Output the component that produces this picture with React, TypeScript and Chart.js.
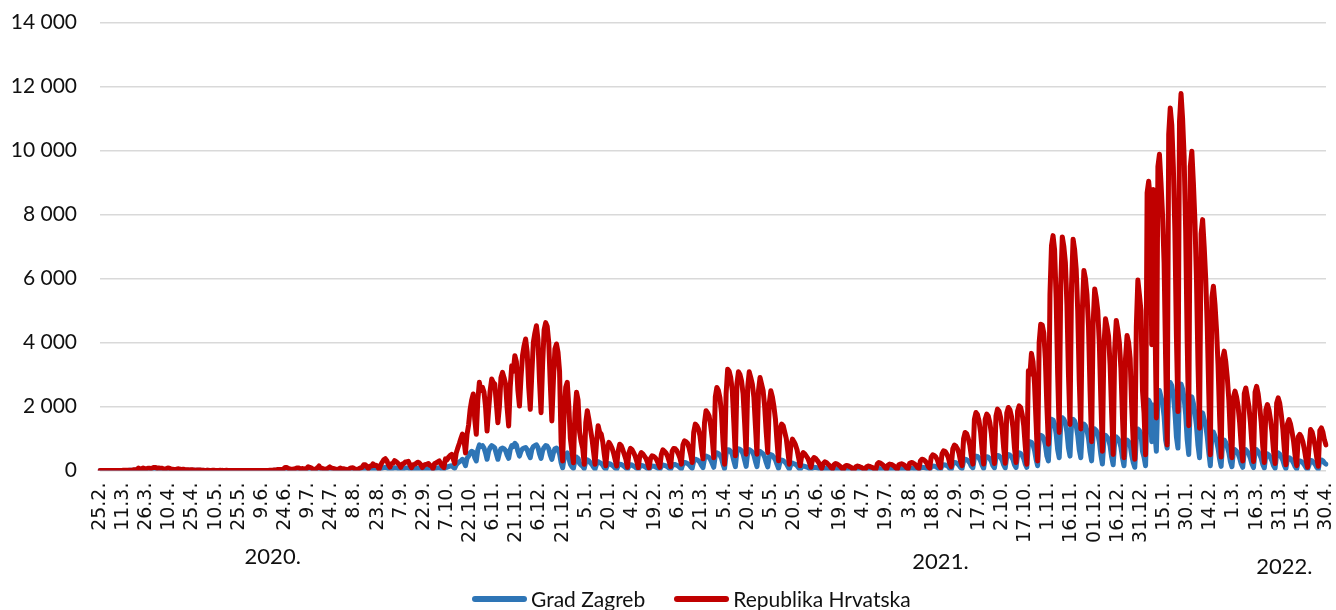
import React, { useEffect, useRef } from 'react';
import { Chart, registerables } from 'chart.js';

Chart.register(...registerables);

// Tick labels shown every 15th day on the category axis
const tickLabels = [
  '25.2.', '11.3.', '26.3.', '10.4.', '25.4.', '10.5.', '25.5.', '9.6.', '24.6.', '9.7.',
  '24.7.', '8.8.', '23.8.', '7.9.', '22.9.', '7.10.', '22.10.', '6.11.', '21.11.', '6.12.',
  '21.12.', '5.1.', '20.1.', '4.2.', '19.2.', '6.3.', '21.3.', '5.4.', '20.4.', '5.5.',
  '20.5.', '4.6.', '19.6.', '4.7.', '19.7.', '3.8.', '18.8.', '2.9.', '17.9.', '2.10.',
  '17.10.', '1.11.', '16.11.', '01.12.', '16.12.', '31.12.', '15.1.', '30.1.', '14.2.', '1.3.',
  '16.3.', '31.3.', '15.4.', '30.4.',
];
const tickEvery = 15;

// Second-level (year) labels and the day index they sit under
const yearLabels = ['2020.', '2021.', '2022.'];
const yearLabelDay = [112, 545, 768];

const seriesNames = ['Grad Zagreb', 'Republika Hrvatska'];

// Republika Hrvatska – daily new cases, 25.2.2020 – 30.4.2022 (rows = weeks Mon..Sun)
const croatiaCases = [
  1, 2, 0, 0, 0, 0,
  0, 0, 1, 1, 1, 1, 0,
  0, 2, 5, 5, 5, 6, 11,
  10, 10, 24, 26, 23, 78, 48,
  52, 76, 58, 52, 71, 71, 56,
  77, 96, 96, 63, 81, 67, 72,
  60, 50, 60, 79, 74, 31, 39,
  32, 28, 48, 52, 41, 25, 40,
  24, 27, 25, 15, 20, 21, 12,
  9, 14, 14, 14, 7, 11, 2,
  5, 11, 2, 3, 6, 4, 3,
  1, 0, 8, 4, 2, 2, 5,
  0, 3, 2, 1, 3, 1, 0,
  0, 1, 1, 2, 0, 1, 0,
  0, 1, 0, 1, 0, 2, 0,
  0, 1, 2, 1, 3, 2, 4,
  5, 7, 18, 14, 30, 34, 31,
  29, 45, 96, 95, 67, 52, 36,
  39, 53, 65, 81, 77, 44, 61,
  49, 52, 63, 116, 95, 82, 41,
  34, 47, 83, 140, 73, 69, 53,
  24, 54, 75, 112, 76, 66, 57,
  27, 39, 52, 77, 48, 52, 44,
  25, 28, 64, 80, 89, 52, 39,
  30, 61, 81, 105, 180, 180, 125,
  58, 131, 137, 208, 154, 166, 125,
  42, 174, 257, 334, 369, 303, 184,
  104, 216, 225, 307, 277, 235, 184,
  97, 199, 217, 266, 273, 285, 172,
  87, 177, 196, 221, 260, 242, 186,
  93, 158, 188, 194, 220, 160, 142,
  58, 219, 237, 269, 297, 213, 141,
  90, 363, 330, 413, 467, 505, 369,
  221, 550, 700, 844, 1000, 1140, 957,
  550, 1130, 1420, 1900, 2200, 2390, 1600,
  1130, 2200, 2755, 2500, 2600, 2450, 2000,
  1234, 1900, 2500, 2860, 2750, 2700, 2100,
  1494, 2000, 2900, 3068, 2900, 2700, 1960,
  1390, 2600, 3275, 3100, 3588, 3400, 2500,
  2015, 2900, 3600, 3900, 4110, 3700, 2600,
  1910, 3000, 4000, 4300, 4525, 4100, 2800,
  1806, 3300, 4400, 4620, 4500, 4000, 2700,
  1547, 2800, 3800, 3953, 3700, 3100, 900,
  297, 1900, 2600, 2755, 2000, 1000, 600,
  245, 1800, 2443, 2200, 1200, 900, 700,
  193, 1500, 1870, 1600, 1300, 1000, 600,
  193, 900, 1400, 1200, 1140, 900, 500,
  150, 700, 880, 800, 700, 550, 350,
  140, 600, 822, 780, 650, 500, 350,
  100, 550, 690, 650, 560, 450, 300,
  90, 450, 560, 520, 450, 380, 250,
  80, 380, 458, 440, 400, 330, 220,
  100, 500, 646, 600, 550, 450, 300,
  120, 600, 690, 680, 620, 520, 400,
  200, 800, 927, 900, 850, 700, 500,
  250, 1200, 1450, 1400, 1300, 1100, 700,
  365, 1500, 1870, 1800, 1700, 1400, 1000,
  400, 2300, 2594, 2500, 2270, 1800, 900,
  198, 2400, 3167, 3100, 2900, 2500, 1500,
  458, 2700, 3083, 3000, 2800, 2400, 1500,
  510, 2600, 3083, 2900, 2700, 2300, 1400,
  510, 2500, 2906, 2700, 2500, 2000, 1200,
  562, 2100, 2490, 2300, 2000, 1600, 900,
  302, 1300, 1450, 1400, 1200, 1000, 600,
  198, 800, 979, 900, 800, 650, 400,
  146, 450, 562, 520, 450, 380, 250,
  100, 330, 406, 380, 320, 250, 150,
  60, 220, 270, 250, 200, 160, 90,
  50, 180, 220, 200, 170, 130, 70,
  30, 130, 160, 150, 120, 100, 50,
  20, 110, 140, 130, 110, 90, 50,
  20, 110, 140, 130, 110, 90, 50,
  30, 200, 250, 230, 200, 160, 90,
  40, 170, 200, 190, 170, 140, 80,
  40, 180, 200, 210, 180, 150, 90,
  50, 220, 250, 240, 210, 170, 100,
  60, 300, 354, 340, 300, 240, 130,
  70, 420, 490, 470, 420, 330, 180,
  90, 520, 615, 600, 520, 420, 230,
  120, 680, 792, 760, 680, 540, 300,
  150, 1000, 1188, 1150, 1000, 800, 450,
  200, 1600, 1813, 1750, 1550, 1200, 650,
  200, 1600, 1760, 1700, 1500, 1150, 600,
  220, 1700, 1917, 1850, 1650, 1300, 700,
  230, 1800, 1970, 1900, 1700, 1350, 700,
  250, 1850, 2020, 1970, 1750, 1400, 750,
  198, 3115, 3000, 3660, 3400, 2700, 1500,
  300, 4000, 4573, 4550, 4300, 3500, 2000,
  822, 5500, 7030, 7340, 6900, 5400, 3000,
  1190, 5800, 7300, 7000, 6500, 5200, 3000,
  1440, 5800, 7230, 6900, 6300, 5000, 2800,
  1300, 5000, 6250, 6000, 5500, 4500, 2500,
  900, 4600, 5670, 5400, 5000, 4000, 2200,
  600, 3900, 4740, 4500, 4200, 3300, 1800,
  500, 3800, 4690, 4400, 4000, 3200, 1700,
  400, 3500, 4220, 4000, 3500, 2000, 900,
  350, 4500, 5950, 5500, 5000, 2500, 1800,
  490, 8680, 9040, 8500, 3930, 8780, 5000,
  1640, 9500, 9880, 8990, 8000, 6500, 3500,
  800, 10500, 11330, 10800, 9500, 7500, 4200,
  1840, 10900, 11780, 11000, 9800, 7500, 4000,
  1400, 9500, 9980, 9000, 7800, 6000, 3300,
  1320, 7400, 7840, 7000, 6000, 4500, 2400,
  490, 5400, 5760, 5200, 4400, 3300, 1700,
  420, 3500, 3730, 3400, 2900, 2200, 1100,
  400, 2300, 2480, 2300, 2000, 1500, 800,
  300, 2400, 2580, 2300, 2000, 1500, 800,
  280, 2450, 2630, 2400, 2000, 1500, 750,
  250, 1900, 2060, 1900, 1600, 1200, 600,
  220, 2100, 2270, 2100, 1750, 1300, 650,
  180, 1450, 1590, 1450, 1200, 900, 450,
  150, 1050, 1130, 1050, 900, 650, 350,
  100, 700, 1280, 1200, 1000, 750, 400,
  130, 1250, 1330, 1200, 950, 800,
];

// Grad Zagreb – daily new cases, same days
const zagrebCases = [
  0, 1, 0, 0, 0, 0,
  0, 0, 0, 1, 0, 0, 0,
  0, 1, 2, 3, 3, 2, 5,
  5, 4, 10, 12, 11, 40, 22,
  25, 34, 26, 23, 30, 32, 25,
  33, 40, 42, 28, 35, 30, 32,
  25, 22, 26, 34, 30, 14, 17,
  14, 12, 20, 22, 17, 11, 16,
  10, 11, 10, 6, 8, 9, 5,
  4, 6, 5, 6, 3, 4, 1,
  2, 4, 1, 1, 2, 2, 1,
  0, 0, 3, 2, 1, 1, 2,
  0, 1, 1, 0, 1, 0, 0,
  0, 0, 0, 1, 0, 0, 0,
  0, 0, 0, 0, 0, 1, 0,
  0, 0, 1, 0, 1, 1, 2,
  2, 3, 6, 5, 10, 12, 11,
  8, 12, 28, 25, 20, 15, 10,
  12, 15, 20, 25, 23, 14, 18,
  15, 16, 20, 30, 28, 22, 12,
  10, 14, 22, 35, 20, 18, 14,
  8, 15, 20, 28, 20, 18, 15,
  8, 10, 14, 20, 13, 14, 12,
  8, 9, 18, 22, 25, 15, 11,
  10, 18, 24, 30, 50, 50, 35,
  18, 40, 42, 60, 45, 50, 38,
  14, 50, 70, 90, 100, 85, 55,
  30, 60, 65, 85, 80, 65, 50,
  30, 55, 60, 75, 75, 80, 50,
  25, 50, 55, 60, 70, 65, 50,
  25, 45, 50, 55, 60, 45, 40,
  20, 65, 70, 80, 90, 65, 42,
  30, 110, 100, 125, 140, 150, 110,
  70, 180, 230, 270, 300, 350, 280,
  150, 380, 450, 550, 600, 580, 400,
  300, 650, 800, 750, 780, 700, 550,
  350, 600, 720, 780, 750, 700, 520,
  350, 550, 680, 700, 680, 620, 480,
  380, 650, 780, 750, 850, 800, 600,
  450, 600, 680, 700, 720, 650, 500,
  400, 650, 750, 780, 800, 720, 520,
  380, 620, 720, 780, 760, 680, 480,
  350, 550, 680, 700, 650, 520, 250,
  80, 400, 500, 550, 380, 200, 120,
  70, 330, 420, 380, 220, 170, 130,
  60, 280, 330, 300, 240, 190, 110,
  50, 200, 280, 250, 220, 170, 90,
  40, 170, 220, 200, 170, 130, 80,
  40, 150, 200, 190, 160, 120, 80,
  35, 140, 180, 170, 140, 110, 70,
  30, 120, 160, 150, 130, 100, 60,
  30, 110, 140, 135, 120, 95, 60,
  35, 130, 170, 160, 145, 115, 75,
  40, 150, 190, 185, 165, 135, 95,
  50, 210, 250, 240, 220, 180, 120,
  70, 300, 350, 340, 310, 260, 160,
  90, 380, 450, 430, 400, 330, 220,
  100, 480, 550, 530, 480, 380, 200,
  60, 520, 650, 640, 600, 500, 300,
  120, 600, 680, 660, 620, 520, 320,
  130, 560, 650, 620, 580, 480, 290,
  120, 520, 600, 560, 520, 420, 250,
  110, 430, 500, 470, 410, 330, 190,
  70, 290, 330, 310, 270, 220, 130,
  50, 190, 230, 210, 190, 150, 90,
  30, 115, 140, 130, 115, 95, 60,
  20, 85, 100, 95, 80, 65, 40,
  15, 60, 70, 65, 55, 45, 25,
  10, 45, 55, 50, 42, 35, 20,
  8, 33, 40, 37, 30, 25, 14,
  8, 28, 35, 32, 28, 22, 13,
  8, 28, 35, 32, 28, 22, 13,
  10, 50, 60, 56, 50, 40, 22,
  10, 45, 55, 52, 46, 38, 20,
  12, 50, 60, 57, 50, 40, 24,
  15, 60, 70, 67, 58, 47, 28,
  20, 85, 100, 96, 85, 68, 38,
  25, 120, 140, 135, 120, 95, 52,
  30, 155, 180, 175, 155, 125, 68,
  40, 215, 250, 240, 215, 170, 95,
  60, 300, 350, 340, 300, 240, 135,
  80, 400, 450, 440, 390, 300, 165,
  70, 380, 430, 415, 370, 285, 150,
  80, 410, 470, 455, 405, 320, 175,
  80, 440, 500, 480, 430, 340, 180,
  90, 480, 550, 530, 470, 375, 200,
  100, 800, 900, 880, 800, 630, 350,
  150, 1000, 1100, 1080, 1000, 800, 450,
  300, 1300, 1600, 1580, 1450, 1150, 650,
  400, 1450, 1650, 1600, 1500, 1200, 700,
  450, 1450, 1600, 1550, 1400, 1100, 650,
  400, 1300, 1450, 1400, 1250, 1000, 580,
  300, 1150, 1300, 1250, 1150, 900, 500,
  200, 950, 1100, 1050, 980, 770, 420,
  180, 900, 1050, 1000, 920, 730, 400,
  150, 830, 950, 900, 800, 480, 250,
  100, 1000, 1300, 1250, 1150, 600, 420,
  150, 2000, 2200, 2100, 900, 2050, 1200,
  600, 2350, 2500, 2300, 2100, 1700, 950,
  700, 2550, 2750, 2650, 2350, 1850, 1050,
  700, 2550, 2700, 2550, 2250, 1750, 950,
  500, 2150, 2300, 2100, 1800, 1400, 780,
  400, 1700, 1800, 1600, 1400, 1050, 560,
  150, 1100, 1200, 1080, 920, 700, 360,
  130, 880, 950, 870, 740, 560, 280,
  120, 600, 650, 600, 520, 390, 210,
  100, 600, 650, 590, 510, 380, 200,
  90, 600, 650, 590, 500, 380, 190,
  80, 480, 520, 480, 400, 300, 150,
  70, 510, 550, 510, 420, 320, 160,
  60, 370, 400, 370, 310, 230, 120,
  50, 280, 300, 280, 240, 175, 95,
  30, 170, 320, 300, 250, 190, 100,
  40, 310, 330, 300, 240, 200,
];

// Category labels: one per day from 25.2.2020
const dayLabels: string[] = croatiaCases.map((_, i) => {
  const d = new Date(Date.UTC(2020, 1, 25 + i));
  return `${d.getUTCDate()}.${d.getUTCMonth() + 1}.${d.getUTCFullYear()}`;
});

const COLORS = { zagreb: '#2E75B6', croatia: '#C00000', grid: '#D9D9D9', text: '#111111' };
const W = 1336;
const H = 610;

const formatThousands = (v: number) =>
  String(Math.round(v)).replace(/\B(?=(\d{3})+(?!\d))/g, ' ');

const yearPlugin = {
  id: 'yearLabels',
  afterDraw(chart: any) {
    const { ctx } = chart;
    const x = chart.scales.x;
    const drops = [0, 5, 10];
    ctx.save();
    ctx.font = '22px Lato';
    ctx.fillStyle = COLORS.text;
    ctx.textAlign = 'center';
    ctx.textBaseline = 'middle';
    yearLabels.forEach((t, i) => {
      ctx.fillText(t, x.getPixelForValue(yearLabelDay[i]), x.top + 86 + drops[i]);
    });
    ctx.restore();
  },
};

export default function App() {
  const canvasRef = useRef<HTMLCanvasElement | null>(null);

  useEffect(() => {
    if (!canvasRef.current) return;
    const chart = new Chart(canvasRef.current, {
      type: 'line',
      data: {
        labels: dayLabels,
        datasets: [
          {
            label: seriesNames[0],
            data: zagrebCases,
            borderColor: COLORS.zagreb,
            backgroundColor: COLORS.zagreb,
            borderWidth: 5,
            pointRadius: 0,
            borderJoinStyle: 'round',
            borderCapStyle: 'round',
            tension: 0,
            order: 2,
          },
          {
            label: seriesNames[1],
            data: croatiaCases,
            borderColor: COLORS.croatia,
            backgroundColor: COLORS.croatia,
            borderWidth: 5,
            pointRadius: 0,
            borderJoinStyle: 'round',
            borderCapStyle: 'round',
            tension: 0,
            order: 1,
          },
        ],
      },
      options: {
        animation: false,
        responsive: false,
        devicePixelRatio: 1,
        layout: { padding: { top: 22.5, right: 10, bottom: 0, left: 0 } },
        plugins: {
          legend: { display: false },
          tooltip: { enabled: false },
        },
        scales: {
          x: {
            type: 'category',
            offset: false,
            grid: { display: false, drawTicks: false },
            border: { display: false },
            ticks: {
              autoSkip: false,
              maxRotation: 90,
              minRotation: 90,
              padding: 12,
              color: COLORS.text,
              font: { family: 'DejaVu Sans', size: 19 },
              callback: (_v: any, index: number) =>
                index % tickEvery === 0 ? tickLabels[index / tickEvery] ?? '' : '',
            },
            afterFit: (s: any) => {
              s.height = 139.5;
              s.paddingLeft = 0;
              s.paddingRight = 0;
            },
          },
          y: {
            min: 0,
            max: 14000,
            grid: { color: COLORS.grid, lineWidth: 1.5, drawTicks: false },
            border: { display: false },
            ticks: {
              stepSize: 2000,
              padding: 23,
              color: COLORS.text,
              font: { family: 'Lato', size: 21 },
              callback: (v: any) => formatThousands(Number(v)),
            },
            afterFit: (s: any) => {
              s.width = 100;
              s.paddingTop = 0;
              s.paddingBottom = 0;
            },
          },
        },
      },
      plugins: [yearPlugin],
    });
    return () => chart.destroy();
  }, []);

  const legendLine = (color: string) => (
    <span
      style={{
        display: 'inline-block',
        width: 55,
        height: 6,
        borderRadius: 3,
        background: color,
        marginRight: 4,
      }}
    />
  );

  return (
    <div style={{ position: 'fixed', left: 0, top: 0, width: W, height: H, background: '#fff' }}>
      <canvas ref={canvasRef} width={W} height={H} style={{ display: 'block', width: W, height: H }} />
      <div
        style={{
          position: 'absolute',
          left: 472,
          top: 587,
          display: 'flex',
          alignItems: 'center',
          fontFamily: 'Lato, sans-serif',
          fontSize: 21,
          lineHeight: '24px',
          color: COLORS.text,
          whiteSpace: 'nowrap',
        }}
      >
        {legendLine(COLORS.zagreb)}
        <span>{seriesNames[0]}</span>
        <span style={{ display: 'inline-block', width: 29 }} />
        {legendLine(COLORS.croatia)}
        <span>{seriesNames[1]}</span>
      </div>
    </div>
  );
}
